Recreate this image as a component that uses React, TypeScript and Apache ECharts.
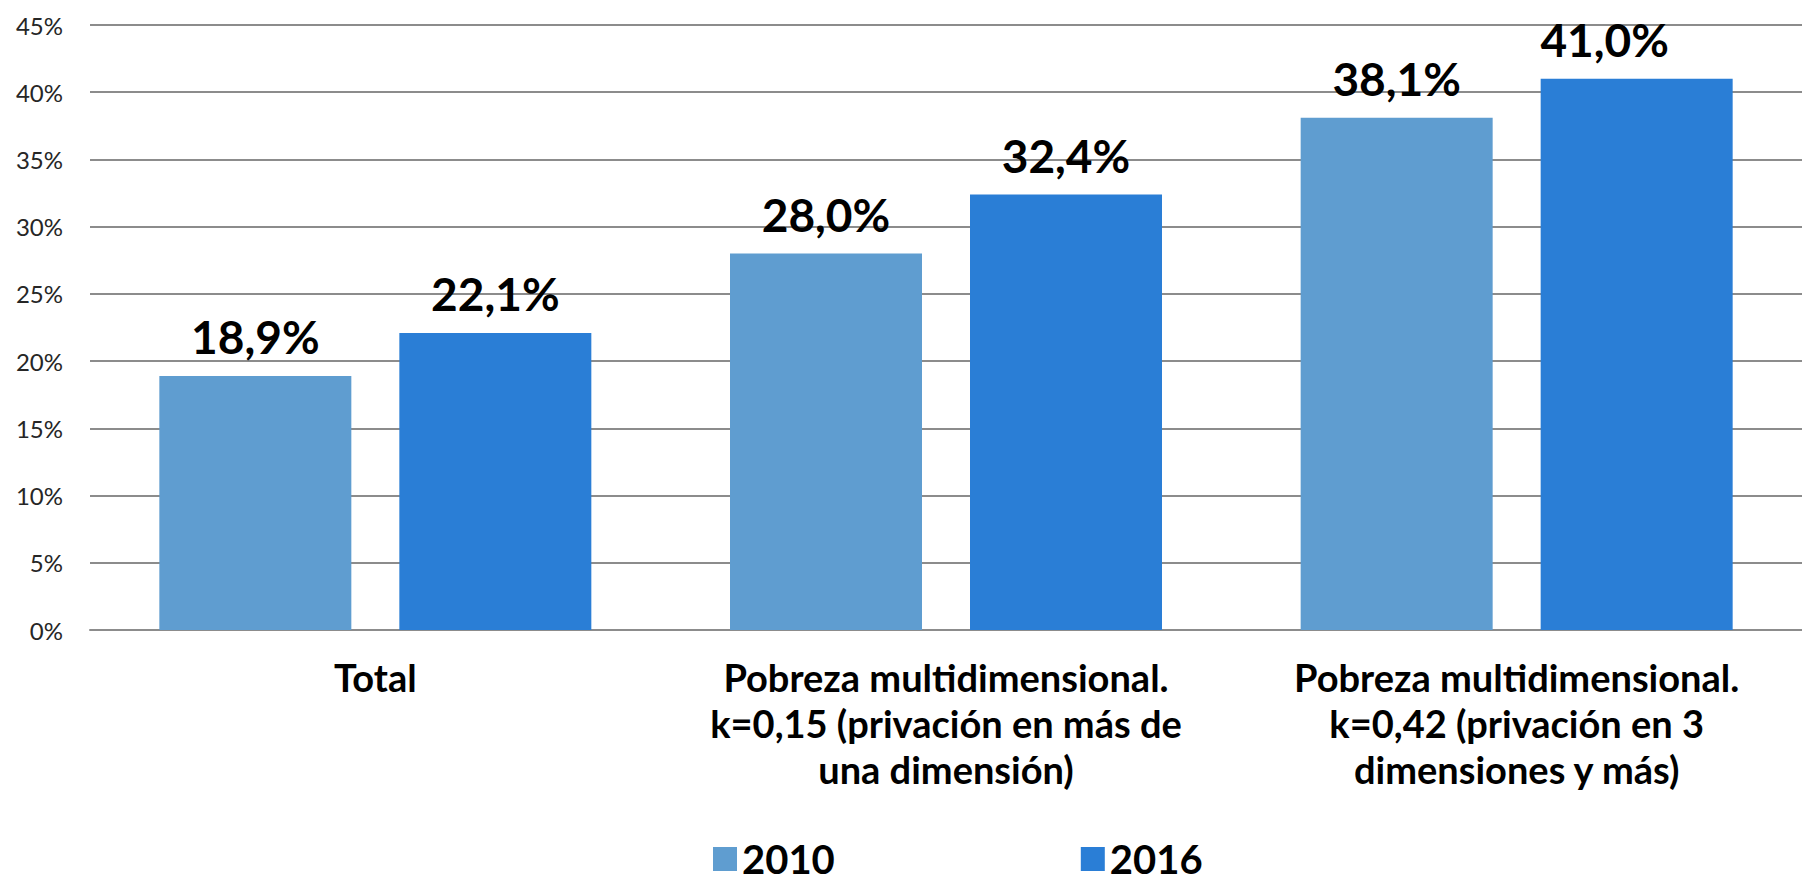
import React, { useEffect, useRef } from "react";
import * as echarts from "echarts";

const categories = [
  "Total",
  "Pobreza multidimensional.\nk=0,15 (privación en más de\nuna dimensión)",
  "Pobreza multidimensional.\nk=0,42 (privación en 3\ndimensiones y más)",
];
const seriesNames = ["2010", "2016"];
const values2010 = [18.9, 28.0, 38.1];
const values2016 = [22.1, 32.4, 41.0];
const yTicks = { min: 0, max: 45, interval: 5 };

const FONT = "Lato, 'Noto Sans', sans-serif";

export default function App() {
  const ref = useRef<HTMLDivElement>(null);
  useEffect(() => {
    document.body.style.margin = "0";
    if (!ref.current) return;
    const chart = echarts.init(ref.current, undefined, { renderer: "svg" });
    const labelFmt = (p: any) => Number(p.value).toFixed(1).replace(".", ",") + "%";
    const dataLabel = {
      show: true,
      position: "top",
      distance: 16,
      formatter: labelFmt,
      color: "#000",
      fontSize: 46,
      fontWeight: "bold",
      fontFamily: FONT,
    };
    chart.setOption({
      animation: false,
      backgroundColor: "#fff",
      grid: { left: 90, top: 25, width: 1730, height: 605, containLabel: false },
      legend: {
        left: 708,
        top: 834,
        itemWidth: 24,
        itemHeight: 24,
        itemGap: 246,
        icon: "rect",
        textStyle: { fontSize: 40, fontWeight: "bold", color: "#000", fontFamily: FONT, lineHeight: 40 },
        data: seriesNames,
      },
      xAxis: {
        type: "category",
        data: categories,
        axisTick: { show: false },
        axisLine: { show: true, lineStyle: { color: "#8c8c8c", width: 2 } },
        axisLabel: {
          interval: 0,
          margin: 24,
          color: "#000",
          fontSize: 38,
          fontWeight: "bold",
          fontFamily: FONT,
          lineHeight: 46,
        },
      },
      yAxis: {
        type: "value",
        min: yTicks.min,
        max: yTicks.max,
        interval: yTicks.interval,
        axisLine: { show: false },
        axisTick: { show: false },
        splitLine: { lineStyle: { color: "#8c8c8c", width: 2 } },
        axisLabel: {
          formatter: "{value}%",
          margin: 27,
          color: "#262626",
          fontSize: 24,
          fontFamily: FONT,
        },
      },
      series: [
        {
          name: seriesNames[0],
          type: "bar",
          data: values2010,
          barWidth: 192,
          barGap: "25%",
          itemStyle: { color: "#5F9DD0" },
          label: dataLabel,
        },
        {
          name: seriesNames[1],
          type: "bar",
          data: values2016.map((v, i) =>
            i === 2 ? { value: v, label: { offset: [-32, 0] } } : v
          ),
          barWidth: 192,
          barGap: "25%",
          itemStyle: { color: "#2A7ED6" },
          label: dataLabel,
        },
      ],
    });
    return () => chart.dispose();
  }, []);
  return <div ref={ref} style={{ width: 1802, height: 882 }} />;
}
